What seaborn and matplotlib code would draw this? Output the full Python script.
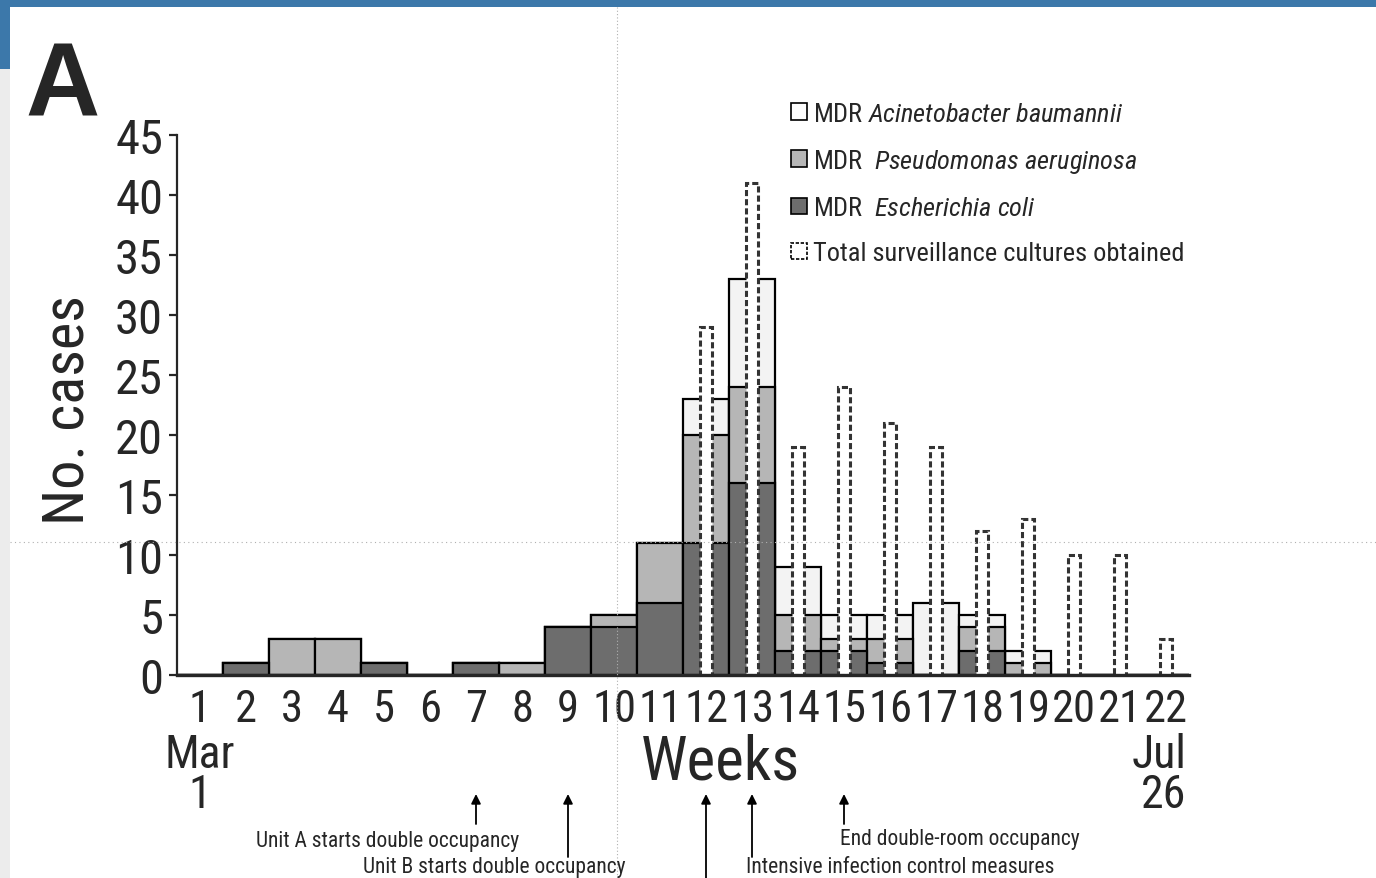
import matplotlib
matplotlib.use("Agg")
import matplotlib.pyplot as plt
import seaborn as sns
import pandas as pd
from matplotlib import font_manager
from matplotlib.patches import Patch, Rectangle
from matplotlib.lines import Line2D

# weekly MDR cases by organism
weeks = list(range(1, 23))
e_coli = [0, 1, 0, 0, 1, 0, 1, 0, 4, 4, 6, 11, 16, 2, 2, 1, 0, 2, 0, 0, 0, 0]
p_aeruginosa = [0, 0, 3, 3, 0, 0, 0, 1, 0, 1, 5, 9, 8, 3, 1, 2, 0, 2, 1, 0, 0, 0]
a_baumannii = [0, 0, 0, 0, 0, 0, 0, 0, 0, 0, 0, 3, 9, 4, 2, 2, 6, 1, 1, 0, 0, 0]

# total surveillance cultures obtained
surv_weeks = list(range(12, 23))
surv_total = [29, 41, 19, 24, 21, 19, 12, 13, 10, 10, 3]

# timeline events (week, label)
event_weeks = [7, 9, 12, 13, 15]
event_labels = ["Unit A starts double occupancy", "Unit B starts double occupancy",
                "", "Intensive infection control measures", "End double-room occupancy"]

W, H = 1376, 879

sns.set_style("ticks")
names = {f.name for f in font_manager.fontManager.ttflist}
FONT = "Roboto"
for cand in ["Liberation Sans Narrow", "Roboto Condensed", "Open Sans Condensed"]:
    if cand in names:
        FONT = cand
        break
plt.rcParams["font.family"] = [FONT, "DejaVu Sans"]
plt.rcParams["mathtext.fontset"] = "custom"
plt.rcParams["mathtext.rm"] = FONT
plt.rcParams["mathtext.it"] = FONT + ":italic"

df = pd.DataFrame({"week": weeks, "ec": e_coli, "pa": p_aeruginosa, "ab": a_baumannii})
df["ec_pa"] = df["ec"] + df["pa"]
df["total"] = df["ec_pa"] + df["ab"]
surv = pd.DataFrame({"week": surv_weeks, "n": surv_total})

c_ab, c_pa, c_ec = "#f3f3f3", "#b6b6b6", "#6d6d6d"

fig = plt.figure(figsize=(W / 100, H / 100), dpi=100)
ax = fig.add_axes([177 / W, 1 - 676 / H, 1012 / W, 540 / H])

bar_kw = dict(order=weeks, width=1, edgecolor="black", linewidth=1.6,
              saturation=1, errorbar=None, ax=ax)
sns.barplot(data=df, x="week", y="total", color=c_ab, **bar_kw)
sns.barplot(data=df, x="week", y="ec_pa", color=c_pa, **bar_kw)
sns.barplot(data=df, x="week", y="ec", color=c_ec, **bar_kw)
sns.barplot(data=surv, x="week", y="n", order=weeks, width=0.26, color="white",
            edgecolor="#333333", linewidth=2.2, linestyle=(0, (2, 1)),
            saturation=1, errorbar=None, ax=ax)

ax.set_xlim(-0.5, 21.5)
ax.set_ylim(0, 45)
ax.set_yticks(range(0, 46, 5))
sns.despine(ax=ax)
ax.spines["left"].set_linewidth(1.6)
ax.spines["bottom"].set_linewidth(2.4)
ax.tick_params(axis="y", labelsize=35, length=6, width=1.6, pad=4)
ax.tick_params(axis="x", labelsize=32, length=0, pad=9)

ax.set_xlabel("Weeks", fontsize=44)
ax.xaxis.set_label_coords((720 - 177) / 1012, (676 - 763) / 540)
ax.xaxis.label.set_va("center")
ax.set_ylabel("No. cases", fontsize=42)
ax.yaxis.set_label_coords((68 - 177) / 1012, (676 - 410) / 540)
ax.yaxis.label.set_va("center")

xt = ax.get_xaxis_transform()
def ay(py):
    return (676 - py) / 540

ax.text(0, ay(755), "Mar", transform=xt, ha="center", va="center", fontsize=33)
ax.text(0, ay(795), "1", transform=xt, ha="center", va="center", fontsize=33)
ax.text(21.45, ay(755), "Jul", transform=xt, ha="right", va="center", fontsize=33)
ax.text(21.45, ay(795), "26", transform=xt, ha="right", va="center", fontsize=33)

# arrows for interventions
tails = [825, 858, 900, 858, 825]
for wk, tail in zip(event_weeks, tails):
    ax.annotate("", xy=(wk - 1, ay(795)), xytext=(wk - 1, ay(tail)),
                xycoords=xt, textcoords=xt, annotation_clip=False,
                arrowprops=dict(arrowstyle="-|>", color="black", lw=1.3,
                                mutation_scale=14, shrinkA=0, shrinkB=0))
fs_ev = 15.5
fig.text(388 / W, 1 - 842 / H, event_labels[0], ha="center", va="center", fontsize=fs_ev)
fig.text(494 / W, 1 - 868 / H, event_labels[1], ha="center", va="center", fontsize=fs_ev)
fig.text(900 / W, 1 - 868 / H, event_labels[3], ha="center", va="center", fontsize=fs_ev)
fig.text(960 / W, 1 - 840 / H, event_labels[4], ha="center", va="center", fontsize=fs_ev)

# legend
handles = [Patch(facecolor="white", edgecolor="black", linewidth=1.2),
           Patch(facecolor=c_pa, edgecolor="black", linewidth=1.2),
           Patch(facecolor=c_ec, edgecolor="black", linewidth=1.2),
           Patch(facecolor="white", edgecolor="black", linewidth=1.2, linestyle=(0, (2, 1)))]
labels = [r"MDR $\it{Acinetobacter\ baumannii}$",
          r"MDR  $\it{Pseudomonas\ aeruginosa}$",
          r"MDR  $\it{Escherichia\ coli}$",
          "Total surveillance cultures obtained"]
ax.legend(handles, labels, loc="upper left", bbox_to_anchor=(791 / W, 1 - 103 / H),
          bbox_transform=fig.transFigure, frameon=False, fontsize=19,
          handlelength=0.6, handleheight=0.6, handletextpad=0.25,
          labelspacing=0.8, borderpad=0, borderaxespad=0)

# panel letter
fig.text(25 / W, 1 - 115 / H, "A", ha="left", va="baseline", fontsize=74,
         fontweight="bold", family=["Liberation Sans", "DejaVu Sans"])

# screenshot frame
fig.patches.append(Rectangle((0, 1 - 8 / H), 1, 8 / H, transform=fig.transFigure,
                             facecolor="#3c78aa", edgecolor="none", zorder=5))
fig.patches.append(Rectangle((0, 1 - 70 / H), 10 / W, 70 / H, transform=fig.transFigure,
                             facecolor="#3c78aa", edgecolor="none", zorder=5))
fig.patches.append(Rectangle((0, 0), 10 / W, 1 - 70 / H, transform=fig.transFigure,
                             facecolor="#ececec", edgecolor="none", zorder=5))
fig.lines.append(Line2D([617 / W, 617 / W], [0, 1 - 8 / H], transform=fig.transFigure,
                        color="#b0b0b0", lw=0.8, ls=(0, (1, 2)), zorder=0))
fig.lines.append(Line2D([10 / W, 1], [1 - 543 / H, 1 - 543 / H], transform=fig.transFigure,
                        color="#b0b0b0", lw=0.8, ls=(0, (1, 3)), zorder=0))

fig.savefig("out.png", dpi=100)
